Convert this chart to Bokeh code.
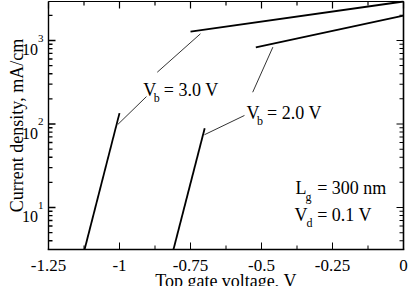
import math
from bokeh.plotting import figure
from bokeh.models import Range1d
from bokeh.core.properties import value
from bokeh.embed import file_html
from bokeh.resources import INLINE

# ---- data ----
vb3_low_v = [-1.123, -1.0]
vb3_low_j = [3.14, 135.0]
vb3_high_v = [-0.75, 0.0]
vb3_high_j = [1280.0, 2930.0]

vb2_low_v = [-0.81, -0.70]
vb2_low_j = [3.14, 89.0]
vb2_high_v = [-0.52, 0.0]
vb2_high_j = [825.0, 1980.0]

x_ticks = [-1.25, -1.0, -0.75, -0.5, -0.25, 0.0]
x_tick_labels = ["-1.25", "-1", "-0.75", "-0.5", "-0.25", "0"]
x_minor = [-1.125, -0.875, -0.625, -0.375, -0.125]
y_ticks = [10, 100, 1000]
y_tick_exps = ["1", "2", "3"]
y_minor = [m * d for d in (1, 10, 100, 1000) for m in range(2, 10) if 3.14 <= m * d <= 2930]

# leader lines (data coordinates)
leader_xs = [[-1.006, -0.905], [-0.867, -0.715], [-0.531, -0.460], [-0.560, -0.701]]
leader_ys = [[98.6, 213.0], [417.0, 1203.0], [240.0, 832.0], [126.5, 74.3]]

# annotation texts: main parts and subscripts
main_x = [-0.9165, -0.844, -0.5528, -0.4803, -0.3803, -0.3039, -0.3838, -0.3039]
main_y = [257.0, 257.0, 136.0, 136.0, 17.0, 17.0, 8.02, 8.02]
main_t = ["V", "= 3.0 V", "V", "= 2.0 V", "L", "= 300 nm", "V", "= 0.1 V"]
sub_x = [-0.8792, -0.5155, -0.345, -0.3415]
sub_y = [206.0, 109.0, 13.4, 6.61]
sub_t = ["b", "b", "g", "d"]

# axis box limits (data) and its place on the canvas (pixels)
X0, X1 = -1.25, 0.0
Y0, Y1 = 3.14, 2930.0
W, H = 409, 286
BOX_L, BOX_R, BOX_T, BOX_B = 48, 403, 1, 249
MAJOR, MINOR = 7, 4
FONT = "Liberation Serif"

kx = (BOX_R - BOX_L) / (X1 - X0)                                   # px per volt
ky = (BOX_B - BOX_T) / (math.log10(Y1) - math.log10(Y0))           # px per decade
x_lo = X0 - BOX_L / kx
x_hi = X1 + (W - BOX_R) / kx
y_lo = 10 ** (math.log10(Y0) - (H - BOX_B) / ky)
y_hi = 10 ** (math.log10(Y1) + BOX_T / ky)


def ymul(px):
    return 10 ** (px / ky)


p = figure(width=W, height=H,
           x_range=Range1d(x_lo, x_hi), y_range=Range1d(y_lo, y_hi),
           y_axis_type="log", output_backend="svg", toolbar_location=None,
           x_axis_location=None, y_axis_location=None,
           min_border=0, margin=(0, 0, 0, 0))
p.background_fill_color = "white"
p.border_fill_color = "white"
p.outline_line_color = None
p.xgrid.grid_line_color = None
p.ygrid.grid_line_color = None

# ---- tick labels ----
p.text(x=x_ticks, y=[Y0] * len(x_ticks), text=x_tick_labels, y_offset=15.5,
       text_align="center", text_baseline="alphabetic",
       text_font=value(FONT), text_font_size=value("17px"), text_color="black")
p.text(x=[X0] * len(y_ticks), y=y_ticks, text=["10"] * len(y_ticks),
       x_offset=-26.5, y_offset=9.3,
       text_align="left", text_baseline="alphabetic",
       text_font=value(FONT), text_font_size=value("16px"), text_color="black")
p.text(x=[X0] * len(y_ticks), y=y_ticks, text=y_tick_exps,
       x_offset=-10.5, y_offset=-2,
       text_align="left", text_baseline="alphabetic",
       text_font=value(FONT), text_font_size=value("11px"), text_color="black")

# ---- axis titles ----
p.text(x=[(X0 + X1) / 2], y=[Y0], text=["Top gate voltage, V"], y_offset=31,
       text_align="center", text_baseline="alphabetic",
       text_font=value(FONT), text_font_size=value("18px"), text_color="black")
p.text(x=[X0], y=[math.sqrt(Y0 * Y1)], text=["Current density, mA/cm"],
       x_offset=-32, angle=math.pi / 2,
       text_align="center", text_baseline="alphabetic",
       text_font=value(FONT), text_font_size=value("18px"), text_color="black")

# ---- curves ----
for xs, ys in ((vb3_low_v, vb3_low_j), (vb3_high_v, vb3_high_j),
               (vb2_low_v, vb2_low_j), (vb2_high_v, vb2_high_j)):
    p.line(xs, ys, line_color="black", line_width=1.8)

# ---- leader lines ----
p.multi_line(xs=leader_xs, ys=leader_ys, line_color="#333333", line_width=1)

# ---- in-plot labels ----
p.text(x=main_x, y=main_y, text=main_t, text_font=value(FONT),
       text_font_size=value("18px"), text_color="black",
       text_align="left", text_baseline="alphabetic")
p.text(x=sub_x, y=sub_y, text=sub_t, text_font=value(FONT),
       text_font_size=value("12px"), text_color="black",
       text_align="left", text_baseline="alphabetic")

# ---- box edges and ticks ----
hw = 0.5 / kx           # half tick width (data units along x)
bw = 0.8                # half box-line width (px)

# bottom: filled quads
bq_l = [X0 - bw / kx] + [v - hw for v in x_ticks + x_minor]
bq_r = [X1 + bw / kx] + [v + hw for v in x_ticks + x_minor]
bq_b = [Y0 / ymul(bw)] + [Y0] * (len(x_ticks) + len(x_minor))
bq_t = [Y0 * ymul(bw)] + [Y0 * ymul(MAJOR)] * len(x_ticks) + [Y0 * ymul(MINOR)] * len(x_minor)
p.quad(left=bq_l, right=bq_r, bottom=bq_b, top=bq_t,
       fill_color="black", line_color=None)

# top: segments
p.segment(x0=[X0] + x_ticks + x_minor, x1=[X1] + x_ticks + x_minor,
          y0=[Y1] + [Y1] * (len(x_ticks) + len(x_minor)),
          y1=[Y1] + [Y1 / ymul(MAJOR)] * len(x_ticks) + [Y1 / ymul(MINOR)] * len(x_minor),
          line_color="black", line_width=1.2)

# left: very slightly sloped lines
eps = 1e-7
p.multi_line(xs=[[X0, X0 + eps]] + [[X0, X0 + MAJOR / kx]] * len(y_ticks) + [[X0, X0 + MINOR / kx]] * len(y_minor),
             ys=[[Y0, Y1]] + [[v, v * (1 + eps)] for v in y_ticks] + [[v, v * (1 + eps)] for v in y_minor],
             line_color="black", line_width=1.4)

# right: filled patches
r_xs = [[X1 - bw / kx, X1 + bw / kx, X1 + bw / kx, X1 - bw / kx]]
r_ys = [[Y0, Y0, Y1, Y1]]
for vals, ln in ((y_ticks, MAJOR), (y_minor, MINOR)):
    for v in vals:
        r_xs.append([X1 - ln / kx, X1, X1, X1 - ln / kx])
        r_ys.append([v / ymul(0.5), v / ymul(0.5), v * ymul(0.5), v * ymul(0.5)])
p.patches(xs=r_xs, ys=r_ys, fill_color="black", line_color=None)

open("out.html", "w").write(file_html(p, INLINE))
